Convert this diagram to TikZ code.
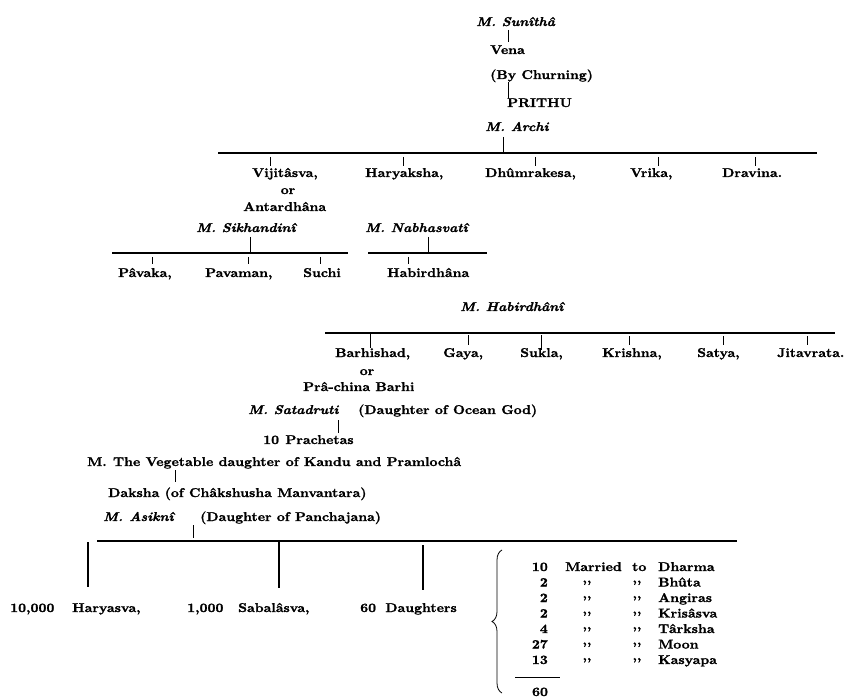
\documentclass[tikz,border=0pt]{standalone}
\usepackage{fontspec}
\setmainfont{lmroman10-regular}[Extension=.otf, BoldFont=lmroman10-bold, ItalicFont=lmroman10-italic, BoldItalicFont=lmroman10-bolditalic, FakeStretch=1.09, BoldFeatures={FakeBold=1.4}, BoldItalicFeatures={FakeBold=1.4}]
\usetikzlibrary{decorations.pathreplacing}
\newcommand\fs{\fontsize{12.7}{14}\selectfont\bfseries}
\tikzset{
  lbl/.style={inner sep=0pt, anchor=base west, font=\fs},
  mlbl/.style={lbl, font=\fs\itshape},
  ctr/.style={inner sep=0pt, anchor=base, font=\fs},
  rgt/.style={inner sep=0pt, anchor=base east, font=\fs},
  bar/.style={line width=1.1pt},
  tick/.style={line width=0.7pt},
  vline/.style={line width=1.1pt},
}
\begin{document}
\begin{tikzpicture}[x=1pt,y=-1pt]
\useasboundingbox (0,0) rectangle (845,700);
% --- top line of descent
\node[mlbl] (sun) at (476,26) {M.\ Sunîthâ};
\node[lbl] (vena) at (490,54) {Vena};
\node[lbl] (churn) at (490,79) {(By Churning)};
\node[lbl] (prithu) at (507,107) {PRITHU};
\node[mlbl] (archi) at (485,131) {M.\ Archi};
\coordinate (s1) at (508,30); \coordinate (s2) at (508,42);
\coordinate (c1) at (508,82); \coordinate (c2) at (508,98);
\draw[tick] (s1) -- (s2);
\draw[tick] (c1) -- (c2);
% --- sons of Prithu
\coordinate (a1) at (503,137); \coordinate (a2) at (503,153);
\coordinate (b1L) at (218,153); \coordinate (b1R) at (817,153);
\draw[tick] (a1) -- (a2);
\draw[bar] (b1L) -- (b1R);
\foreach \x/\n in {270/va,403/ha,535/dh,658/vr,755/dr}{
  \coordinate (\n t1) at (\x,157); \coordinate (\n t2) at (\x,166);
  \draw[tick] (\n t1) -- (\n t2);
}
\node[lbl] (vij) at (252,177) {Vijitâsva,};
\node[ctr] (or1) at (288,194) {or};
\node[lbl] (ant) at (243,211) {Antardhâna};
\node[lbl] (har) at (365,177) {Haryaksha,};
\node[lbl] (dhu) at (485,177) {Dhûmrakesa,};
\node[lbl] (vri) at (630,177) {Vrika,};
\node[lbl] (dra) at (722,177) {Dravina.};
% --- wives of Vijitasva
\node[mlbl] (sik) at (196,232) {M.\ Sikhandinî};
\node[mlbl] (nab) at (365,232) {M.\ Nabhasvatî};
\coordinate (k1) at (250,237); \coordinate (k2) at (250,253);
\coordinate (b2L) at (112,253); \coordinate (b2R) at (348,253);
\draw[tick] (k1) -- (k2);
\draw[bar] (b2L) -- (b2R);
\foreach \x/\n in {152/pa,248/pv,320/su}{
  \coordinate (\n t1) at (\x,257); \coordinate (\n t2) at (\x,264);
  \draw[tick] (\n t1) -- (\n t2);
}
\node[lbl] (pav) at (118,277) {Pâvaka,};
\node[lbl] (pvm) at (205,277) {Pavaman,};
\node[lbl] (suc) at (303,277) {Suchi};
\coordinate (n1) at (428,237); \coordinate (n2) at (428,253);
\coordinate (b3L) at (368,253); \coordinate (b3R) at (487,253);
\coordinate (h1) at (408,257); \coordinate (h2) at (408,264);
\draw[tick] (n1) -- (n2);
\draw[bar] (b3L) -- (b3R);
\draw[tick] (h1) -- (h2);
\node[lbl] (hab) at (387,277) {Habirdhâna};
% --- sons of Habirdhana
\node[mlbl] (habi) at (460,311) {M.\ Habirdhânî};
\coordinate (b4L) at (325,333); \coordinate (b4R) at (835,333);
\draw[bar] (b4L) -- (b4R);
\coordinate (ba1) at (370,333); \coordinate (ba2) at (370,348);
\coordinate (ga1) at (468,335); \coordinate (ga2) at (468,345);
\coordinate (sk1) at (541,335); \coordinate (sk2) at (541,350);
\draw[tick] (ba1) -- (ba2);
\draw[tick] (ga1) -- (ga2);
\draw[tick] (sk1) -- (sk2);
\foreach \x/\n in {629/kr,723/sa,807/ji}{
  \coordinate (\n t1) at (\x,336); \coordinate (\n t2) at (\x,345);
  \draw[tick] (\n t1) -- (\n t2);
}
\node[lbl] (bar) at (335,357) {Barhishad,};
\node[ctr] (or2) at (367,375) {or};
\node[lbl] (pra) at (303,391) {Prâ-china Barhi};
\node[lbl] (gay) at (443,357) {Gaya,};
\node[lbl] (suk) at (520,357) {Sukla,};
\node[lbl] (kri) at (602,357) {Krishna,};
\node[lbl] (sat) at (697,357) {Satya,};
\node[lbl] (jit) at (777,357) {Jitavrata.};
% --- Prachetas and Daksha
\node[mlbl] (sata) at (248,414) {M.\ Satadruti};
\node[lbl] (ocean) at (358,414) {(Daughter of Ocean God)};
\coordinate (p1) at (338,420); \coordinate (p2) at (338,433);
\draw[tick] (p1) -- (p2);
\node[lbl] (pra10) at (263,444) {10\enspace Prachetas};
\node[lbl] (veg) at (87,466) {M.\enspace The Vegetable daughter of Kandu and Pramlochâ};
\coordinate (d1) at (175,470); \coordinate (d2) at (175,482);
\draw[tick] (d1) -- (d2);
\node[lbl] (dak) at (108,497) {Daksha (of Châkshusha Manvantara)};
\node[mlbl] (asi) at (103,521) {M.\enspace Asiknî};
\node[lbl] (panch) at (200,521) {(Daughter of Panchajana)};
\coordinate (q1) at (193,525); \coordinate (q2) at (193,538);
\coordinate (b5L) at (97,541); \coordinate (b5R) at (737,541);
\draw[tick] (q1) -- (q2);
\draw[bar] (b5L) -- (b5R);
\coordinate (hy1) at (88,542); \coordinate (hy2) at (88,587);
\coordinate (sb1) at (279,542); \coordinate (sb2) at (279,588);
\coordinate (dg1) at (423,545); \coordinate (dg2) at (423,590);
\draw[vline] (hy1) -- (hy2);
\draw[vline] (sb1) -- (sb2);
\draw[vline] (dg1) -- (dg2);
\node[lbl] (n10000) at (10,612) {10,000};
\node[lbl] (hry) at (72,612) {Haryasva,};
\node[lbl] (n1000) at (187,612) {1,000};
\node[lbl] (sab) at (238,612) {Sabalâsva,};
\node[lbl] (n60) at (360,612) {60};
\node[rgt] (dau) at (457,612) {Daughters};
% --- brace and table
\coordinate (brB) at (502,693); \coordinate (brT) at (502,550);
\draw[line width=0.8pt, decorate, decoration={brace, amplitude=10pt, aspect=0.5}] (brB) -- (brT);
\foreach \num/\who/\i in {10/Dharma/0, 2/Bhûta/1, 2/Angiras/2, 2/Krisâsva/3, 4/Târksha/4, 27/Moon/5, 13/Kasyapa/6}{
  \pgfmathsetmacro{\yy}{571+15.5*\i}
  \node[rgt] (num\i) at (548,\yy) {\num};
  \node[lbl] (who\i) at (658,\yy) {\who};
}
\node[lbl] (mar) at (565,571) {Married};
\node[lbl] (to) at (632,571) {to};
\foreach \i in {1,...,6}{
  \pgfmathsetmacro{\yy}{571+15.5*\i-4}
  \node[ctr] (dA\i) at (587,\yy) {{,}{,}};
  \node[ctr] (dB\i) at (637,\yy) {{,}{,}};
}
\coordinate (r1) at (515,677); \coordinate (r2) at (560,677);
\draw[line width=1pt] (r1) -- (r2);
\node[ctr] (tot) at (540,696) {60};
\end{tikzpicture}
\end{document}
